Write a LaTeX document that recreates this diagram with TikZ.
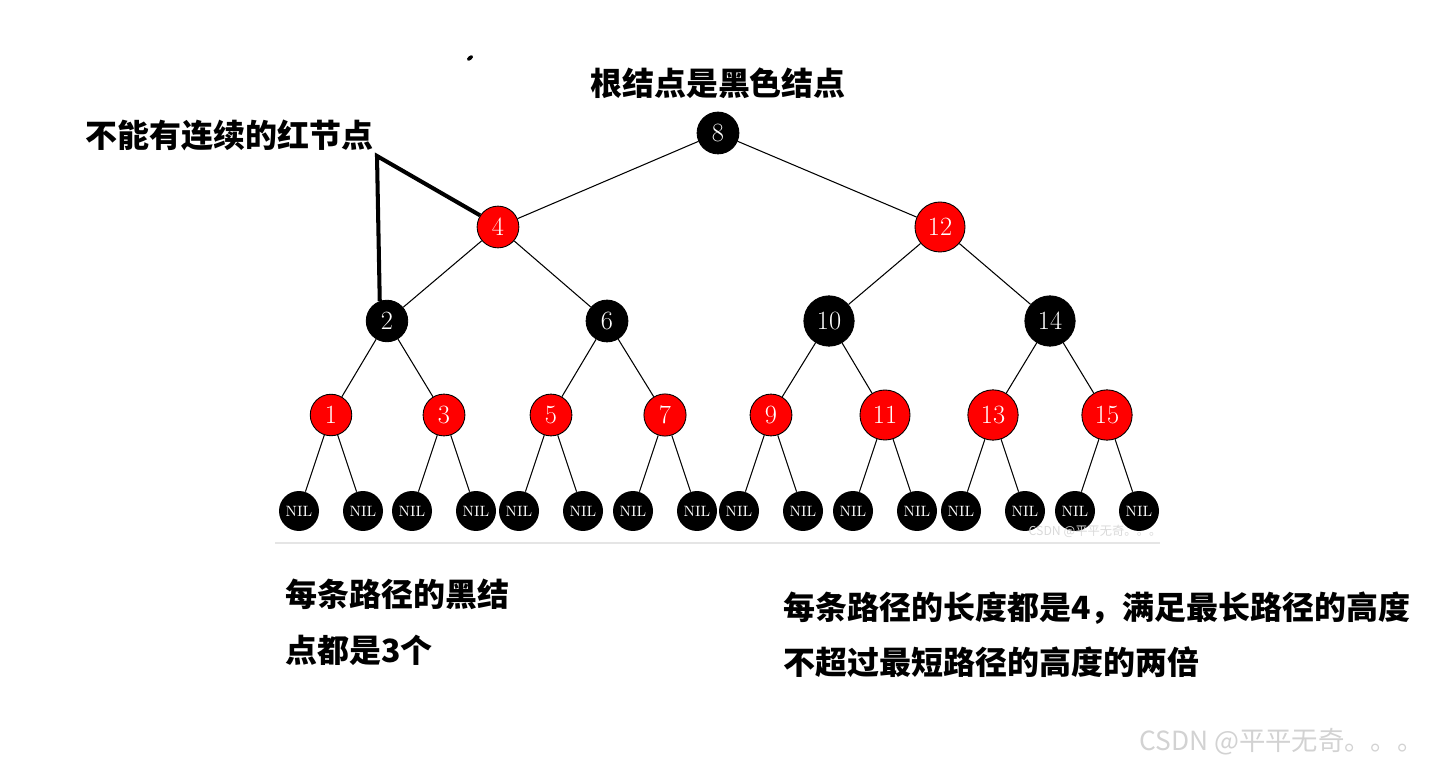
\documentclass[tikz,border=0pt]{standalone}
\usepackage{fontspec}
\newfontfamily\cjk{Noto Sans CJK SC}
\usetikzlibrary{positioning}
\tikzset{
  rbn/.style={circle,draw=black,line width=0.5pt,inner sep=0.145cm,text=white,font=\fontsize{15}{18}\selectfont},
  blknode/.style={rbn,fill=black},
  rednode/.style={rbn,fill=red},
  nilnode/.style={circle,fill=black,text=white,minimum size=0.8cm,inner sep=0pt,font=\fontsize{8.5}{10}\selectfont},
  edge/.style={line width=0.6pt},
  notearr/.style={line width=2.3pt},
  lbl/.style={inner sep=0pt,font=\cjk\bfseries\fontsize{18.2}{22}\selectfont},
  wmark/.style={inner sep=0pt,text=gray!35,font=\cjk\fontsize{15}{18}\selectfont}
}

\begin{document}
\begin{tikzpicture}[x=0.02cm,y=-0.02cm]
  \useasboundingbox (0,0) rectangle (1440,766);

  \node[blknode] (n8) at (718,133) {8};
  \node[rednode] (n4) at (498,227) {4};
  \node[rednode] (n12) at (940,227) {12};
  \node[blknode] (n2) at (387,321) {2};
  \node[blknode] (n6) at (607,321) {6};
  \node[blknode] (n10) at (829,321) {10};
  \node[blknode] (n14) at (1050,321) {14};
  \node[rednode] (n1) at (331,415) {1};
  \node[rednode] (n3) at (444,415) {3};
  \node[rednode] (n5) at (551,415) {5};
  \node[rednode] (n7) at (665,415) {7};
  \node[rednode] (n9) at (771,415) {9};
  \node[rednode] (n11) at (885,415) {11};
  \node[rednode] (n13) at (993,415) {13};
  \node[rednode] (n15) at (1107,415) {15};

  \draw[edge] (n8)--(n4);
  \draw[edge] (n8)--(n12);
  \draw[edge] (n4)--(n2);
  \draw[edge] (n4)--(n6);
  \draw[edge] (n12)--(n10);
  \draw[edge] (n12)--(n14);
  \draw[edge] (n2)--(n1);
  \draw[edge] (n2)--(n3);
  \draw[edge] (n6)--(n5);
  \draw[edge] (n6)--(n7);
  \draw[edge] (n10)--(n9);
  \draw[edge] (n10)--(n11);
  \draw[edge] (n14)--(n13);
  \draw[edge] (n14)--(n15);

  % NIL leaves
  \foreach \i in {1,3,5,7,9,11,13,15} {
    \path (n\i.center) ++(-32,96) node[nilnode] (nil\i l) {NIL};
    \path (n\i.center) ++(32,96) node[nilnode] (nil\i r) {NIL};
    \draw[edge] (n\i)--(nil\i l);
    \draw[edge] (n\i)--(nil\i r);
  }

  \coordinate (base l) at (275,543);
  \coordinate (base r) at (1160,543);
  \draw[gray!20,line width=1.2pt] (base l)--(base r);
  \node[wmark,font=\cjk\fontsize{7}{8}\selectfont,text=gray!30] (wm small) at (1095,531) {CSDN @平平无奇。。。};

  \node[lbl] (root note) at (718,83) {根结点是黑色结点};
  \node[lbl,anchor=west] (red note) at (85,135) {不能有连续的红节点};
  \coordinate (apex) at (377,156);
  \draw[notearr] (n4.147)--(apex)--(n2.110);
  \fill[rotate around={40:(470,58)}] (470,58) ellipse (0.07cm and 0.04cm);

  \node[lbl,anchor=west] (black note a) at (285,594) {每条路径的黑结};
  \node[lbl,anchor=west] (black note b) at (285,650) {点都是3个};
  \node[lbl,anchor=west] (path note a) at (783,608) {每条路径的长度都是4，满足最长路径的高度};
  \node[lbl,anchor=west] (path note b) at (783,662) {不超过最短路径的高度的两倍};

  \node[wmark,anchor=east] (wm big) at (1424,742) {CSDN @平平无奇。。。};
\end{tikzpicture}
\end{document}
